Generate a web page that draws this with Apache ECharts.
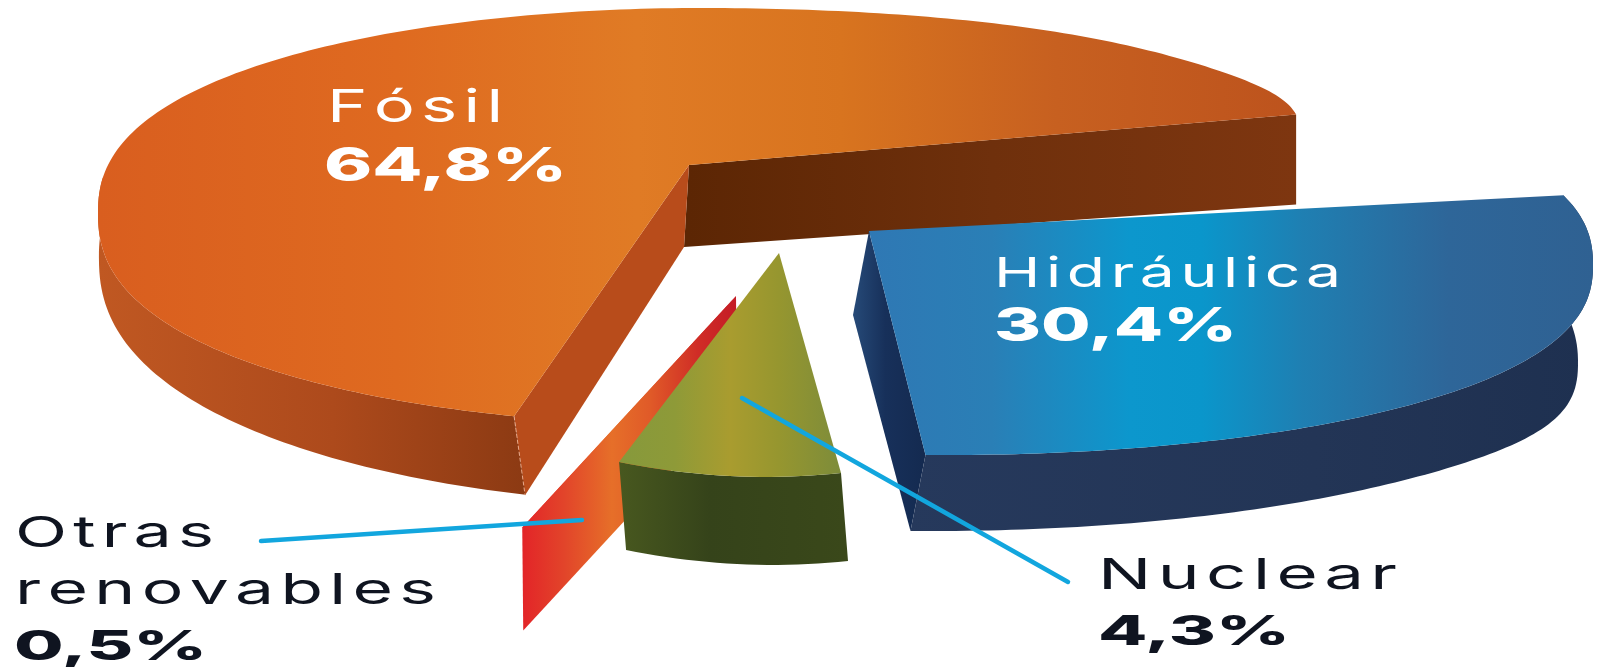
<!DOCTYPE html>
<html>
<head>
<meta charset="utf-8">
<script src="https://cdn.jsdelivr.net/npm/echarts@6/dist/echarts.min.js"></script>
<style>html,body{margin:0;background:#fff}#c{width:1598px;height:667px}</style>
</head>
<body>
<div id="c"></div>
<script>
// Electricity generation mix, drawn as an exploded 3D pie.
const categories = ['Fósil', 'Otras renovables', 'Nuclear', 'Hidráulica'];
const shares = [64.8, 0.5, 4.3, 30.4];

// Each slice is projected on its own tilted rim; the arc length comes from its share.
const FOSIL = {
  apex: [689, 165], cx: 700, cy: 213, a: 602, bTop: 205, bBottom: 212, p: 0.85, pRight: 1,
  lift: [[45, 2], [29, 12]], tilt: 0, start: -8, sweep: 1.046,
  dropX: [1, 11], dropY: [50, 30], dropBoost: [0, 1], outerFrom: -172,
  apexDrop: [-5, 82], startDrop: [0, 90], endDrop: [11, 79], walls: ['start', 'end'], seam: '#e9a98a',
  face: { from: 98, to: 1296, stops: [[0, '#d95e1f'], [0.25, '#df6a20'], [0.45, '#e07b25'], [0.62, '#d8741f'], [0.8, '#c76020'], [1, '#bd531d']] },
  outer: { from: 98, to: 525, stops: [[0, '#c05822'], [0.55, '#ad4a1c'], [1, '#8c3a13']] },
  startWall: { from: 689, to: 1296, stops: [[0, '#5c2604'], [0.5, '#6f300c'], [1, '#7e3610']] },
  endWall: { from: 512, to: 689, stops: [[0, '#b84c1b'], [1, '#b84c1b']] }
};
const OTRAS = {
  apex: [736, 296], cx: 747, cy: 342, a: 600, bTop: 200, bBottom: 200, p: 1, pRight: 1,
  lift: [], tilt: 0, start: 112, sweep: 1,
  apexDrop: [1, 103], startDrop: [1, 103], walls: ['start'],
  face: { from: 522, to: 736, stops: [[0, '#e32428'], [0.2, '#e2452a'], [0.42, '#e66f29'], [0.6, '#e05a28'], [0.82, '#d02d26'], [1, '#c41c26']] },
  startWall: { from: 522, to: 736, stops: [[0, '#e32428'], [0.2, '#e2452a'], [0.42, '#e66f29'], [0.6, '#e05a28'], [0.82, '#d02d26'], [1, '#c41c26']] }
};
const NUCLEAR = {
  apex: [779, 253], cx: 730, cy: -24, a: 603, bTop: 500, bBottom: 500, p: 1, pRight: 1,
  lift: [], tilt: 0.05, start: 100.6, sweep: 1.37,
  dropX: [7, 0], dropY: [88, 0], dropBoost: [0, 1], walls: [],
  face: { from: 619, to: 841, stops: [[0, '#86993c'], [0.25, '#8e9a38'], [0.5, '#a99c2f'], [0.72, '#96962f'], [1, '#7d8c3a']] },
  outer: { from: 619, to: 847, stops: [[0, '#48581f'], [0.4, '#35431a'], [1, '#3a481a']] }
};
const HIDRAULICA = {
  apex: [869, 231], cx: 948, cy: 265, a: 645, bTop: 194, bBottom: 190, p: 0.85, pRight: 0.85,
  lift: [], tilt: 0, start: 92, sweep: 1,
  dropX: [-15, 0], dropY: [76, 0], dropBoost: [22, 8],
  apexDrop: [-16, 84], startDrop: [-15, 76], walls: ['start'],
  face: { from: 869, to: 1593, stops: [[0, '#2f78b4'], [0.17, '#2a7fb6'], [0.36, '#0c97cd'], [0.46, '#0a96cb'], [0.6, '#1f7fb2'], [0.8, '#2e6699'], [1, '#2f6192']] },
  outer: { from: 900, to: 1590, stops: [[0, '#26395c'], [0.6, '#233556'], [1, '#1e3050']] },
  startWall: { from: 853, to: 925, stops: [[0, '#264a78'], [0.45, '#17305a'], [1, '#142a50']] }
};
const sliceShapes = [FOSIL, OTRAS, NUCLEAR, HIDRAULICA];

// Label placement: left edge, baseline, rendered width, font size.
const nameLabels = [
  [['Fósil', 327, 125, 176, 45]],
  [['Otras', 15, 550, 199, 43], ['renovables', 15, 607, 421, 43]],
  [['Nuclear', 1098, 592, 299, 43]],
  [['Hidráulica', 994, 289, 347, 41]]
];
const valueLabels = [
  [324, 184, 243, 47], [14, 662, 193, 41], [1098, 647, 192, 41], [994, 344, 243, 47]
];
const labelColors = ['#ffffff', '#0f1420', '#0f1420', '#ffffff'];
const leaders = [null, [[261, 541], [582, 520]], [[742, 398], [1068, 582]], null];

const RAD = Math.PI / 180;
const measure = document.createElement('canvas').getContext('2d');

function rim(s, deg) {
  const c = Math.cos(deg * RAD), n = Math.sin(deg * RAD);
  const b = n >= 0 ? s.bBottom : s.bTop;
  const p = c > 0 ? s.pRight : s.p;
  const raised = s.lift.reduce((sum, [k, e]) => sum + k * Math.pow(Math.max(c, 0), e), 0);
  return {
    x: s.cx + s.a * c,
    y: s.cy + b * Math.sign(n) * Math.pow(Math.abs(n), p) - raised + s.tilt * s.a * c,
    n, c
  };
}
function sweepOf(s, share) { return share * 3.6 * s.sweep; }
function arc(s, share) {
  const out = [], span = sweepOf(s, share), steps = Math.max(2, Math.ceil(span));
  for (let i = 0; i <= steps; i++) out.push(rim(s, s.start - span * i / steps));
  return out;
}
function paint(g) {
  return new echarts.graphic.LinearGradient(g.from, 0, g.to, 0,
    g.stops.map(([offset, color]) => ({ offset, color })), true);
}
function poly(points, fill) {
  return { type: 'polygon', shape: { points }, style: { fill, stroke: null } };
}
function sideWall(s, rimPoint, drop, g) {
  const ax = s.apex[0], ay = s.apex[1];
  return poly([[ax, ay], [rimPoint.x, rimPoint.y], [rimPoint.x + drop[0], rimPoint.y + drop[1]],
    [ax + s.apexDrop[0], ay + s.apexDrop[1]]], paint(g));
}

function drawSlice(params, api) {
  const s = sliceShapes[params.dataIndex];
  const pts = arc(s, api.value(0));
  const children = [];

  if (s.walls.includes('start')) children.push(sideWall(s, pts[0], s.startDrop, s.startWall));
  if (s.walls.includes('end')) children.push(sideWall(s, pts[pts.length - 1], s.endDrop, s.endWall));

  if (s.outer) {
    // Outer skin: rim points plus the same rim pushed down by the slice thickness.
    let vis = pts;
    if (s.outerFrom !== undefined) {
      const span = sweepOf(s, api.value(0));
      vis = pts.filter((_, i) => s.start - span * i / (pts.length - 1) <= s.outerFrom);
    }
    const top = vis.map(q => [q.x, q.y]);
    const low = vis.map(q => [
      q.x + s.dropX[0] + s.dropX[1] * q.n,
      q.y + s.dropY[0] + s.dropY[1] * q.n + s.dropBoost[0] * Math.pow(Math.max(q.c, 0), s.dropBoost[1])
    ]).reverse();
    children.push(poly(top.concat(low), paint(s.outer)));
  }

  children.push(poly([s.apex].concat(pts.map(q => [q.x, q.y])), paint(s.face)));

  if (s.seam) {
    const e = pts[pts.length - 1];
    children.push({ type: 'line', shape: { x1: e.x, y1: e.y, x2: e.x + s.endDrop[0], y2: e.y + s.endDrop[1] },
      style: { stroke: s.seam, lineWidth: 1, lineDash: [4, 2] } });
  }
  return { type: 'group', children };
}

// Hair spaces open up the letter spacing of the regular-weight names.
function spaced(text) { return Array.from(text).join('\u200A'); }

function textEl(text, x, baseline, width, size, weight, fill) {
  const font = weight + ' ' + size + 'px Inter';
  measure.font = font;
  return {
    type: 'text', x, y: baseline - size * 0.36,
    scaleX: width / measure.measureText(text).width,
    style: { text, fill, font, align: 'left', verticalAlign: 'middle' }
  };
}
function drawLabel(params, api) {
  const i = params.dataIndex, children = [];
  if (leaders[i]) {
    const [p, q] = leaders[i];
    children.push({ type: 'line', shape: { x1: p[0], y1: p[1], x2: q[0], y2: q[1] },
      style: { stroke: '#12a6de', lineWidth: 4.5, lineCap: 'round' } });
  }
  nameLabels[i].forEach(l => children.push(textEl(spaced(l[0]), l[1], l[2], l[3], l[4], 400, labelColors[i])));
  const v = valueLabels[i];
  const text = api.value(0).toFixed(1).replace('.', ',') + '%';
  children.push(textEl(text, v[0], v[1], v[2], v[3], 800, labelColors[i]));
  return { type: 'group', children };
}

const chart = echarts.init(document.getElementById('c'), null, { renderer: 'canvas' });
const rows = shares.map((v, i) => ({ name: categories[i], value: [v] }));
chart.setOption({
  backgroundColor: '#ffffff',
  animation: false,
  series: [
    { type: 'custom', coordinateSystem: 'none', silent: true, z: 2, data: rows, renderItem: drawSlice },
    { type: 'custom', coordinateSystem: 'none', silent: true, z: 3, data: rows, renderItem: drawLabel }
  ]
});
</script>
</body>
</html>
